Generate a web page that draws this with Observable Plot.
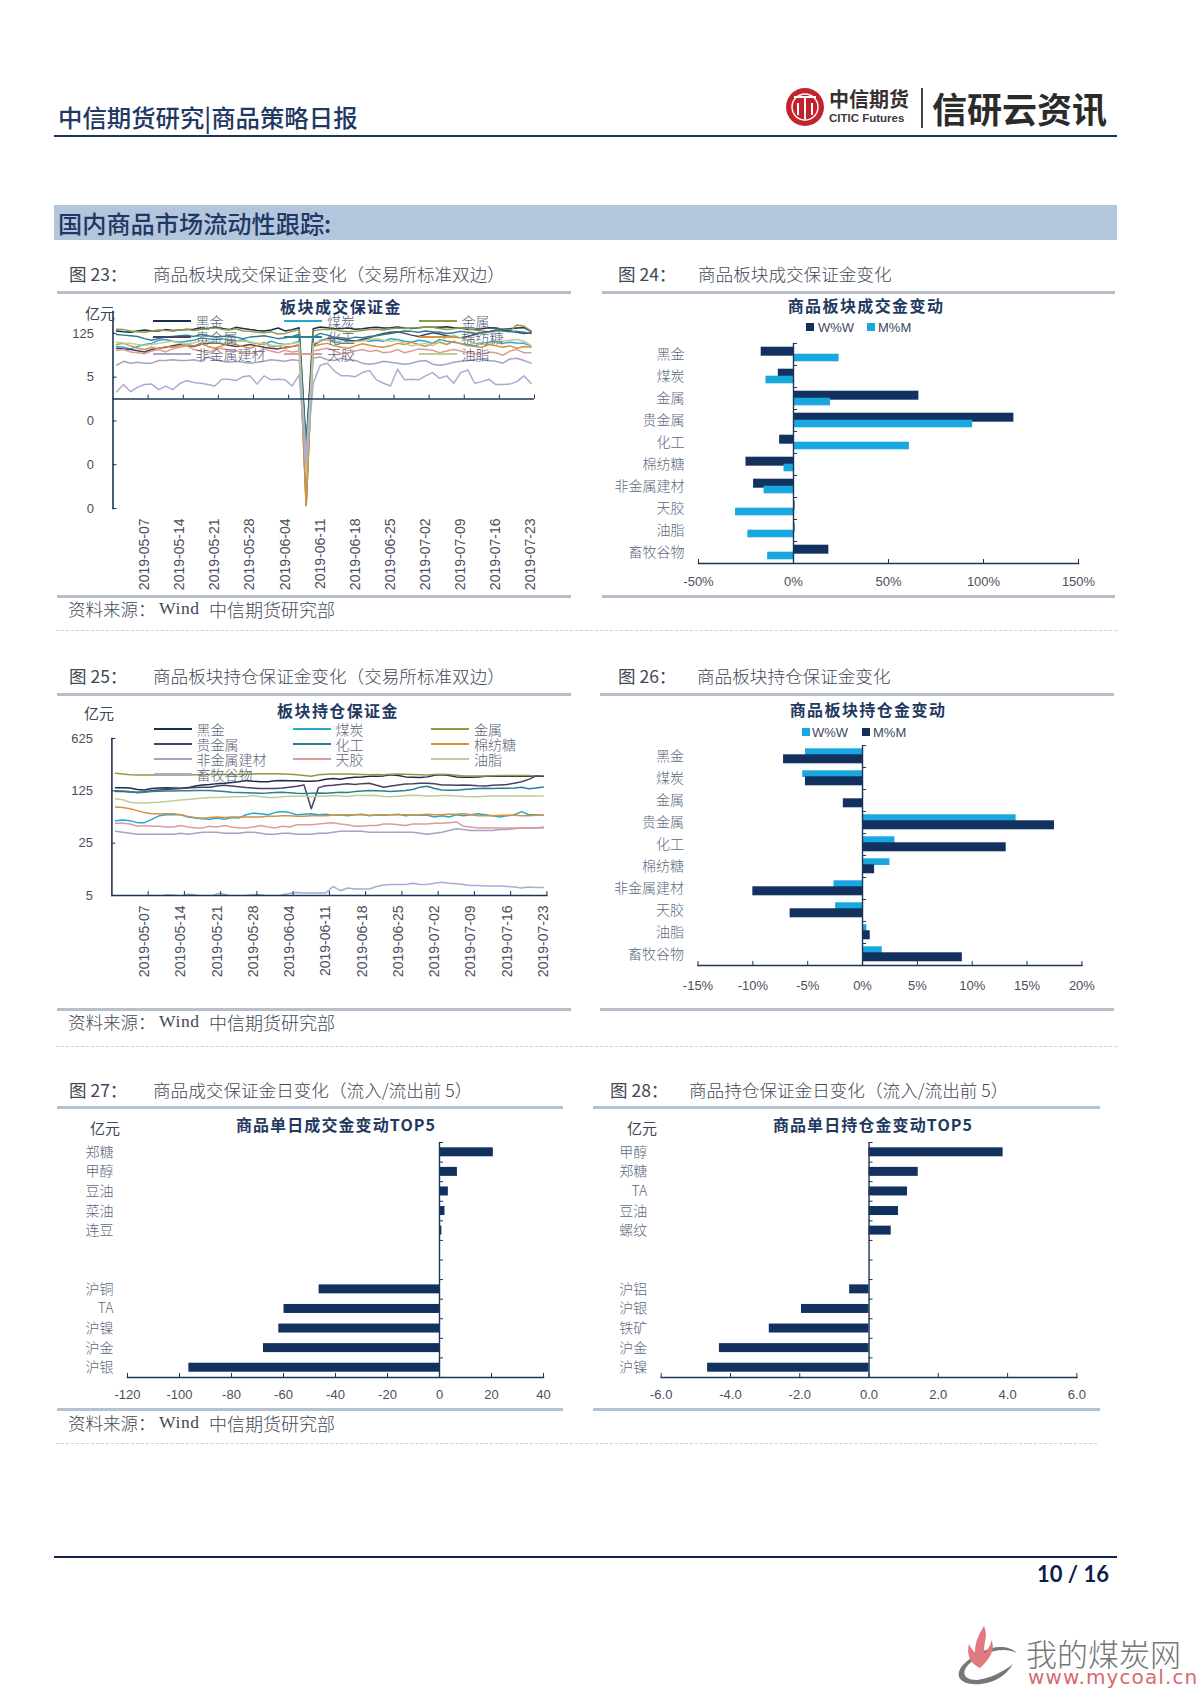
<!DOCTYPE html>
<html lang="zh">
<head>
<meta charset="utf-8">
<script src="https://cdn.jsdelivr.net/npm/d3@7"></script>
<script src="https://cdn.jsdelivr.net/npm/@observablehq/plot@0.6"></script>
<style>
html,body{margin:0;padding:0;background:#fff}
#page{position:relative;width:1200px;height:1696px;overflow:hidden;background:#fff;font-family:"Noto Sans CJK SC","Noto Sans",sans-serif}
.t{position:absolute;white-space:nowrap;transform:translateY(-50%);line-height:1}
.r{position:absolute}
</style>
</head>
<body>
<div id="page"></div>
<script>
// ---------- shared categories ----------
const sessions = ["2019-04-26","2019-04-29","2019-04-30","2019-05-06","2019-05-07","2019-05-08","2019-05-09","2019-05-10","2019-05-13","2019-05-14","2019-05-15","2019-05-16","2019-05-17","2019-05-20","2019-05-21","2019-05-22","2019-05-23","2019-05-24","2019-05-27","2019-05-28","2019-05-29","2019-05-30","2019-05-31","2019-06-03","2019-06-04","2019-06-05","2019-06-06","2019-06-07","2019-06-10","2019-06-11","2019-06-12","2019-06-13","2019-06-14","2019-06-17","2019-06-18","2019-06-19","2019-06-20","2019-06-21","2019-06-24","2019-06-25","2019-06-26","2019-06-27","2019-06-28","2019-07-01","2019-07-02","2019-07-03","2019-07-04","2019-07-05","2019-07-08","2019-07-09","2019-07-10","2019-07-11","2019-07-12","2019-07-15","2019-07-16","2019-07-17","2019-07-18","2019-07-19","2019-07-22","2019-07-23"];
const weekTicks = ["2019-05-07","2019-05-14","2019-05-21","2019-05-28","2019-06-04","2019-06-11","2019-06-18","2019-06-25","2019-07-02","2019-07-09","2019-07-16","2019-07-23"];
const sectors = ["黑金","煤炭","金属","贵金属","化工","棉纺糖","非金属建材","天胶","油脂","畜牧谷物"];
const sectorColors = ["#1b2c4c","#25a9cf","#8f9a45","#4b3f66","#2d7f90","#d8913f","#a9a2c4","#dc9c9c","#c0cc94","#a9accf"];

// ---------- Fig 23: trading margin by sector ----------
const trade_heijin = [150,140,135,150,160,150,150,165,155,160,165,170,190,175,200,180,165,195,180,165,155,150,160,185,150,165,190,0.03,175,200,190,175,180,185,170,175,190,195,185,190,200,185,180,190,200,195,195,205,190,185,165,170,175,190,185,170,175,185,190,145];
const trade_meitan = [48,45,40,48,55,60,75,80,70,65,70,75,90,85,80,85,75,70,80,65,60,55,70,60,55,60,70,0.0004,50,75,80,65,60,75,70,80,70,75,70,85,80,70,65,75,70,60,80,70,65,60,55,50,60,65,70,60,65,62,60,50];
const trade_jinshu = [170,165,150,140,135,150,160,155,150,160,170,155,165,175,190,170,160,175,150,145,135,130,140,120,125,145,165,0.0004,150,165,170,165,150,140,145,155,165,170,160,175,185,180,185,190,200,195,180,165,175,190,175,160,150,140,165,175,150,230,210,150];
const trade_guijinshu = [42,40,38,35,32,38,42,45,50,55,50,48,55,60,65,58,52,48,50,55,50,45,42,40,45,48,52,0.03,55,70,85,90,80,75,70,80,90,110,125,135,140,125,110,100,115,130,120,105,95,90,100,115,130,140,155,160,150,135,125,130];
const trade_huagong = [115,110,105,100,85,75,85,95,100,105,110,100,115,105,95,100,105,95,85,95,100,105,95,85,90,100,115,0.03,95,125,110,95,90,85,95,90,100,105,115,125,135,150,145,135,150,140,135,125,130,145,135,125,130,140,155,150,140,145,135,125];
const trade_mianfangtang = [55,60,50,42,38,45,40,48,45,50,55,50,58,48,42,50,60,55,48,42,50,65,45,50,42,48,55,0.0004,48,55,60,50,45,42,50,58,52,48,45,50,60,55,65,55,48,60,65,55,70,58,50,48,45,55,50,45,50,42,48,45];
const trade_feijinshu = [12,16,14,15,14,14,17,17,18,17,17,18,16,22,18,16,15,16,15,14,15,16,18,17,16,18,17,0.02,20,22,18,17,20,18,17,14,13,14,16,15,14,13,14,16,17,13,12,13,15,16,17,18,19,17,16,14,19,20,17,14];
const trade_tianjiao = [36,38,32,30,28,34,38,32,40,45,50,38,34,30,38,42,36,34,30,28,32,40,34,30,36,32,34,0.005,34,38,42,35,28,30,34,38,33,36,30,32,38,30,34,40,38,36,30,34,38,34,30,28,27,32,30,25,34,38,30,30];
const trade_youzhi = [65,62,60,55,52,55,60,65,70,60,58,62,75,70,65,60,65,70,72,68,60,58,52,50,55,60,65,0.005,60,70,80,75,65,62,68,72,80,85,75,70,75,60,50,55,60,50,70,95,110,90,75,62,55,60,65,70,75,80,70,52];
const trade_xumu = [1.7,2.9,1.7,2.4,2.9,3,2,2.6,2,3.1,3.9,3.4,3.2,2.9,2.6,4.3,4.3,3.9,5.2,5.5,3,5.5,4.1,4.3,4.1,2.6,5.9,0.008,3.2,12,14,8,5.5,5.5,5.2,7,8.2,4.1,3.2,2.6,9,4.1,4.3,4.1,5.5,7,4.6,5.5,3.2,7,8.5,3.2,3.6,4.3,2.9,2.9,3,3.6,5.5,3.2];
const trade_yTicks = [125,5,0.2,0.008,0.00032];

// ---------- Fig 25: open-interest margin by sector ----------
const hold_heijin = [137,137,136,130,128,134,136,137,136,135,138,145,150,152,156,158,162,165,172,168,165,165,170,172,170,170,168,168,170,178,182,178,185,190,192,195,195,198,205,200,192,190,188,192,202,205,200,192,190,190,192,195,195,198,196,198,195,197,196,195];
const hold_meitan = [50,51,50,47,47,52,58,60,60,60,56,54,53,52,54,52,55,54,60,63,62,60,64,66,64,60,61,62,60,61,59,60,58,60,61,58,60,59,60,61,58,60,59,59,56,58,56,60,58,60,62,60,58,56,58,60,66,60,60,59];
const hold_jinshu = [215,210,205,204,203,204,204,205,204,203,204,205,205,206,207,208,207,206,208,210,212,212,211,210,208,205,200,196,205,208,210,210,209,208,206,205,206,205,208,210,208,207,205,204,206,208,206,202,198,197,198,198,199,200,200,201,200,200,198,197];
const hold_guijinshu = [122,122,121,120,122,125,128,130,132,134,136,138,140,140,145,148,145,142,138,136,134,134,134,136,140,144,150,72,138,146,148,152,155,152,156,158,148,140,145,150,154,155,158,158,155,150,150,148,150,148,146,145,148,150,152,158,165,178,198,195];
const hold_huagong = [125,124,122,118,120,122,123,124,124,125,125,126,126,126,124,122,120,119,118,117,116,117,119,120,118,116,115,116,117,116,118,120,119,122,124,126,125,124,122,124,126,130,140,144,134,128,127,127,130,132,134,135,134,135,135,136,140,133,136,141];
const hold_mianfangtang = [76,75,72,68,64,62,62,62,62,60,57,55,54,55,56,55,56,56,56,56,56,57,57,58,58,57,57,58,58,58,59,59,60,60,60,59,59,60,60,60,60,59,60,61,60,60,61,61,62,60,58,58,58,59,59,59,58,58,59,59];
const hold_feijinshu = [36,35,34,33,33,33,33,33,33,34,33,34,35,35,35,34,34,34,35,35,34,33,33,34,34,33,33,33,34,34,35,36,36,36,36,35,35,35,35,35,35,35,34,33,34,35,37,39,38,37,37,37,37,38,38,39,40,40,40,40];
const hold_tianjiao = [46,46,45,42,43,42,42,41,41,43,41,40,40,42,41,43,41,40,40,41,43,41,40,42,41,44,44,44,45,46,47,45,44,42,42,43,43,45,45,44,43,45,45,45,46,46,47,48,42,41,40,40,40,40,40,40,40,40,40,41];
const hold_youzhi = [98,95,88,86,86,87,88,90,92,94,96,98,100,102,102,103,104,104,105,108,104,102,102,104,106,106,106,105,106,106,108,107,105,108,108,109,108,105,104,106,108,109,108,107,107,108,108,107,105,104,104,106,107,107,107,107,107,107,107,107];
const hold_xumu = [4.6,4.7,4.8,4.8,4.8,4.7,4.8,5.1,5.05,4.9,5.2,5.1,4.8,4.7,5.3,5.2,4.9,4.8,5,5.1,5.1,4.9,4.8,5.1,5.3,5.5,5.4,5.4,5.4,5.4,6.6,5.8,6.3,6.1,6.1,6.1,6.6,6.9,7,7,7,7.3,7,7,7.3,7.5,7.3,7.2,7,6.8,6.8,6.7,6.7,6.7,6.6,6.5,6.3,6.5,6.4,6.4];
const hold_yTicks = [625,125,25,5];

// ---------- Fig 24 / Fig 26: sector changes (%) ----------
const fig24_wow = [-17,-8,66,116,-7.3,-25,-21,0.8,0.8,18.6];
const fig24_mom = [24,-14.5,19.5,94.3,61,-5,-15.5,-30.5,-24,-13.6];
const fig24_ticks = [-50,0,50,100,150];
const fig26_wow = [-5.2,-5.45,0.1,14,2.95,2.5,-2.6,-2.45,0.4,1.8];
const fig26_mom = [-7.2,-5.2,-1.75,17.5,13.1,1.1,-10,-6.6,0.7,9.1];
const fig26_ticks = [-15,-10,-5,0,5,10,15,20];

// ---------- Fig 27 / Fig 28: daily top 5 ----------
const fig27_names = ["郑糖","甲醇","豆油","菜油","连豆"," ","  ","沪铜","TA","沪镍","沪金","沪银"];
const fig27_values = [20.7,6.9,3.4,2.1,0.9,null,null,-46.3,-59.8,-61.8,-67.7,-96.4];
const fig27_ticks = [-120,-100,-80,-60,-40,-20,0,20,40];
const fig28_names = ["甲醇","郑糖","TA","豆油","螺纹"," ","  ","沪铝","沪银","铁矿","沪金","沪镍"];
const fig28_values = [3.87,1.42,1.11,0.85,0.64,null,null,-0.56,-1.95,-2.88,-4.32,-4.66];
const fig28_ticks = [-6,-4,-2,0,2,4,6];

// ---------- helpers ----------
const page = document.getElementById("page");
const AXIS = "#1d3557", TICK = "#4a4f5c", CJK = '"Noto Sans CJK SC"', LATIN = '"Liberation Sans"';
function text(s, x, y, o = {}) {
  const e = document.createElement("div");
  e.className = "t"; e.textContent = s;
  e.style.left = x + "px"; e.style.top = y + "px";
  e.style.fontSize = (o.size || 17) + "px";
  e.style.color = o.color || "#3f4856";
  if (o.weight) e.style.fontWeight = o.weight;
  if (o.family) e.style.fontFamily = o.family;
  if (o.spacing) e.style.letterSpacing = o.spacing + "px";
  if (o.center) e.style.transform = "translate(-50%,-50%)";
  page.appendChild(e); return e;
}
function rect(x, y, w, h, c, extra) {
  const e = document.createElement("div");
  e.className = "r";
  e.style.cssText = `left:${x}px;top:${y}px;width:${w}px;height:${h}px;background:${c};` + (extra || "");
  page.appendChild(e); return e;
}
function rule(x1, x2, y, c = "#b7bfcb") { rect(x1, y - 1.5, x2 - x1, 3, c); }
function dotted(x1, x2, y) { rect(x1, y, x2 - x1, 0, "transparent", "border-top:1px dashed #cfcfcf;"); }
function heading(num, title, x1, x2, y) { text("图 " + num + "\uFF1A", x1, y, {size: 17.5}); text(title, x2, y, {size: 17.6, weight: 300}); }
function source(y) {
  text("资料来源\uFF1A", 68, y, {size: 17.5, weight: 300});
  text("Wind", 159, y, {size: 17.5, family: '"Liberation Serif"', spacing: .6});
  text("中信期货研究部", 209, y, {size: 18, weight: 300});
}
function place(opts, left, top) {
  const svg = Plot.plot({...opts, style: {fontFamily: `${LATIN},${CJK}`, fontSize: "13px", color: TICK, background: "transparent", overflow: "visible"}});
  svg.style.position = "absolute"; svg.style.left = left + "px"; svg.style.top = top + "px";
  page.appendChild(svg);
}
function longTable(arrays) {
  return arrays.flatMap((vals, k) => vals.map((v, i) => ({date: sessions[i], v, sector: sectors[k]})));
}
function legend(rows, cols, swatchW) {
  sectors.forEach((name, i) => {
    const r = Math.floor(i / 3), c = i % 3;
    if (r >= rows.length) return;
    rect(cols[c], rows[r] - 1, swatchW, 2, sectorColors[i]);
    text(name, cols[c] + swatchW + 5, rows[r], {size: 14, color: "#5b6378", weight: 300});
  });
}
function yAxisMarks(ticks, fmt, frameW) {
  return [
    Plot.tickY(ticks, {y: d => d, insetRight: frameW - 4, stroke: AXIS, strokeWidth: 1}),
    Plot.text(ticks, {y: d => d, text: fmt, frameAnchor: "left", dx: -19, textAnchor: "end", fontSize: 13, fill: TICK})
  ];
}

function bars({cats, series, ticks, fmt, left, right, top, bottom, svgLeft, svgTop, tickLen = 4, pad = 13}) {
  const svgRight = right + 24, svgBottom = bottom + 32;
  const dom = [ticks[0], ticks[ticks.length - 1]];
  const perPx = (dom[1] - dom[0]) / (right - left);
  const band = (bottom - top) / cats.length;
  const marks = [];
  for (const s of series) {
    marks.push(Plot.barX(cats.map((c, i) => ({cat: c, v: s.values[i]})).filter(d => d.v != null),
      {x: "v", y: "cat", fill: s.color, insetTop: s.inset[0], insetBottom: s.inset[1]}));
  }
  marks.push(
    Plot.ruleX([0], {stroke: AXIS, strokeWidth: 1.4}),
    Plot.ruleY(cats, {y: d => d, x1: 0, x2: tickLen * perPx, dy: -band / 2, stroke: AXIS, strokeWidth: 1}),
    Plot.frame({anchor: "bottom", stroke: AXIS, strokeWidth: 1.6}),
    Plot.tickX(ticks, {x: d => d, insetTop: bottom - top - 4, stroke: AXIS, strokeWidth: 1}),
    Plot.axisX({ticks, tickSize: 0, tickPadding: pad, tickFormat: fmt, fontSize: 13, fill: TICK, label: null}),
    Plot.axisY({tickSize: 0, tickPadding: 14, fontSize: 14, fontFamily: CJK, fontWeight: 300, fill: "#5b6a80", label: null})
  );
  place({
    width: svgRight - svgLeft, height: svgBottom - svgTop,
    marginLeft: left - svgLeft, marginRight: svgRight - right, marginTop: top - svgTop, marginBottom: svgBottom - bottom,
    x: {domain: dom},
    y: {type: "band", domain: cats, padding: 0, round: false},
    marks
  }, svgLeft, svgTop);
}
const pct = d => d + "%";

// ---------- page chrome ----------
text("中信期货研究|商品策略日报", 58, 117, {size: 24.4, color: "#1f3864", weight: 500});
rect(54, 135, 1063, 2.4, "#1c3553");
rect(54, 205, 1063, 35, "#b4c6dc");
text("国内商品市场流动性跟踪:", 58, 223, {size: 24.2, color: "#1f3864", weight: 500});

// logo
const logo = document.createElementNS("http://www.w3.org/2000/svg", "svg");
logo.setAttribute("width", 46); logo.setAttribute("height", 46);
logo.style.cssText = "position:absolute;left:785px;top:85px";
logo.innerHTML = '<circle cx="20" cy="22" r="19" fill="#c3232c"/><circle cx="20" cy="22" r="13" fill="none" stroke="#fff" stroke-width="1.4"/><path d="M9 12h22M20 12v22M13 18v12M27 18v12" stroke="#fff" stroke-width="2" fill="none"/>';
page.appendChild(logo);
text("中信期货", 829, 99, {size: 20, color: "#3a2f2f", weight: 700, family: '"Noto Sans CJK SC"'});
text("CITIC Futures", 829, 119, {size: 11.5, color: "#3a3a3a", weight: 700, family: LATIN});
rect(921, 88, 1.6, 40, "#444");
text("信研云资讯", 932, 107, {size: 35, color: "#2b2b2b", weight: 700, family: '"Noto Sans CJK SC"'});

// ---------- Fig 23 ----------
heading("23", "商品板块成交保证金变化\uFF08交易所标准双边\uFF09", 69, 153, 274);
rule(57, 571, 292);
{
  const left = 112.5, right = 534, top = 311, bottom = 508, sl = 60, st = 300, sr = 570, sb = 595;
  const band = (right - left) / sessions.length;
  place({
    width: sr - sl, height: sb - st,
    marginLeft: left - sl, marginRight: sr - right, marginTop: top - st, marginBottom: sb - bottom,
    x: {type: "band", domain: sessions, padding: 0, round: false},
    y: {type: "log", domain: [0.00032, 625], axis: null},
    color: {domain: sectors, range: sectorColors},
    marks: [
      Plot.line(longTable([trade_heijin, trade_meitan, trade_jinshu, trade_guijinshu, trade_huagong, trade_mianfangtang, trade_feijinshu, trade_tianjiao, trade_youzhi, trade_xumu]),
        {x: "date", y: "v", z: "sector", stroke: "sector", strokeWidth: 1.5, curve: "linear"}),
      Plot.ruleY([1], {stroke: AXIS, strokeWidth: 1.6}),
      Plot.ruleX(weekTicks, {x: d => d, y1: 1, y2: 1.34, dx: band / 2, stroke: AXIS, strokeWidth: 1}),
      Plot.frame({anchor: "left", stroke: AXIS, strokeWidth: 1.6}),
      ...yAxisMarks(trade_yTicks, d => d < 1 ? "0" : String(d), right - left),
      Plot.axisX({ticks: weekTicks, tickSize: 0, tickPadding: 10, tickRotate: -90, fontSize: 14, label: null})
    ]
  }, sl, st);
}
text("板块成交保证金", 341, 306, {size: 16, weight: 700, color: "#1f3a5f", spacing: 1.4, center: true});
text("亿元", 100, 312, {size: 15, center: true});
legend([320.5, 337, 353.5], [152.5, 284, 418.6], 38);
rule(57, 571, 596);
source(609);
dotted(56, 1117, 630);

// ---------- Fig 24 ----------
heading("24", "商品板块成交保证金变化", 618, 698, 274);
rule(602, 1115, 292);
bars({cats: sectors, series: [
  {values: fig24_wow, color: "#12315f", inset: [3.7, 9.3]},
  {values: fig24_mom, color: "#19a7e0", inset: [10.7, 3.7]}
], ticks: fig24_ticks, fmt: pct, left: 698, right: 1078, top: 343, bottom: 563, svgLeft: 602, svgTop: 335});
text("商品板块成交金变动", 866, 305, {size: 16, weight: 700, color: "#1f3a5f", spacing: 1.4, center: true});
rect(806, 323, 8, 8, "#12315f"); text("W%W", 818, 327, {size: 13, family: LATIN, color: "#3b4a5e"});
rect(867, 323, 8, 8, "#19a7e0"); text("M%M", 878, 327, {size: 13, family: LATIN, color: "#3b4a5e"});
rule(602, 1115, 596);

// ---------- Fig 25 ----------
heading("25", "商品板块持仓保证金变化\uFF08交易所标准双边\uFF09", 69, 153, 676);
rule(57, 571, 694);
{
  const left = 111.4, right = 546.4, top = 738, bottom = 895, sl = 60, st = 725, sr = 570, sb = 990;
  const band = (right - left) / sessions.length;
  place({
    width: sr - sl, height: sb - st,
    marginLeft: left - sl, marginRight: sr - right, marginTop: top - st, marginBottom: sb - bottom,
    x: {type: "band", domain: sessions, padding: 0, round: false},
    y: {type: "log", domain: [5, 625], axis: null},
    color: {domain: sectors, range: sectorColors},
    marks: [
      Plot.line(longTable([hold_heijin, hold_meitan, hold_jinshu, hold_guijinshu, hold_huagong, hold_mianfangtang, hold_feijinshu, hold_tianjiao, hold_youzhi, hold_xumu]),
        {x: "date", y: "v", z: "sector", stroke: "sector", strokeWidth: 1.5, curve: "linear", clip: true}),
      Plot.tickX(weekTicks, {x: d => d, dx: band / 2, insetTop: bottom - top - 4, stroke: AXIS, strokeWidth: 1}),
      Plot.frame({anchor: "left", stroke: AXIS, strokeWidth: 1.6}),
      Plot.frame({anchor: "bottom", stroke: AXIS, strokeWidth: 1.6}),
      ...yAxisMarks(hold_yTicks, d => String(d), right - left),
      Plot.axisX({ticks: weekTicks, tickSize: 0, tickPadding: 10, tickRotate: -90, fontSize: 14, label: null})
    ]
  }, sl, st);
}
text("板块持仓保证金", 338, 710, {size: 16, weight: 700, color: "#1f3a5f", spacing: 1.4, center: true});
text("亿元", 99, 712, {size: 15, center: true});
legend([729, 744, 759, 774], [153.6, 292.5, 431], 38);
rule(57, 571, 1009);
source(1022);
dotted(56, 1117, 1046);

// ---------- Fig 26 ----------
heading("26", "商品板块持仓保证金变化", 618, 697, 676);
rule(600, 1114, 694);
bars({cats: sectors, series: [
  {values: fig26_wow, color: "#19a7e0", inset: [3.3, 12]},
  {values: fig26_mom, color: "#12315f", inset: [9.3, 3.7]}
], ticks: fig26_ticks, fmt: pct, left: 697.5, right: 1081.4, top: 745, bottom: 965, svgLeft: 600, svgTop: 737, pad: 15});
text("商品板块持仓金变动", 868, 709, {size: 16, weight: 700, color: "#1f3a5f", spacing: 1.4, center: true});
rect(802, 728, 8, 8, "#19a7e0"); text("W%W", 812, 732, {size: 13, family: LATIN, color: "#3b4a5e"});
rect(862, 728, 8, 8, "#12315f"); text("M%M", 873, 732, {size: 13, family: LATIN, color: "#3b4a5e"});
rule(600, 1114, 1009);

// ---------- Fig 27 ----------
heading("27", "商品成交保证金日变化\uFF08流入/流出前 5\uFF09", 69, 153, 1090);
rule(57, 563, 1107, "#b3c3d2");
bars({cats: fig27_names, series: [{values: fig27_values, color: "#12315f", inset: [5.3, 5.3]}],
  ticks: fig27_ticks, fmt: d => String(d), left: 127, right: 543, top: 1142, bottom: 1377, svgLeft: 60, svgTop: 1134, pad: 12});
text("商品单日成交金变动TOP5", 336, 1124, {size: 16, weight: 700, color: "#1f3a5f", spacing: 1.1, center: true});
text("亿元", 105, 1127, {size: 15, center: true});
rule(57, 563, 1409, "#b3c3d2");
source(1423);
dotted(56, 1097, 1443);

// ---------- Fig 28 ----------
heading("28", "商品持仓保证金日变化\uFF08流入/流出前 5\uFF09", 610, 689, 1090);
rule(593, 1100, 1107, "#b3c3d2");
bars({cats: fig28_names, series: [{values: fig28_values, color: "#12315f", inset: [5.3, 5.3]}],
  ticks: fig28_ticks, fmt: d => d.toFixed(1), left: 660.7, right: 1076.4, top: 1142, bottom: 1377, svgLeft: 595, svgTop: 1134, pad: 12});
text("商品单日持仓金变动TOP5", 873, 1124, {size: 16, weight: 700, color: "#1f3a5f", spacing: 1.1, center: true});
text("亿元", 642, 1127, {size: 15, center: true});
rule(593, 1100, 1409, "#b3c3d2");

// ---------- footer ----------
rect(54, 1556, 1063, 2, "#14244a");
text("10 / 16", 1037, 1574, {size: 22, weight: 700, family: "Lato", color: "#0c1f4a"});
const flame = document.createElementNS("http://www.w3.org/2000/svg", "svg");
flame.setAttribute("width", 70); flame.setAttribute("height", 66);
flame.style.cssText = "position:absolute;left:955px;top:1622px";
flame.innerHTML = '<path d="M62 31C48 18 22 28 7 44C-2 56 8 64 26 62C42 60 52 52 58 42C48 50 36 56 22 58C8 58 6 50 14 42C28 30 48 24 62 31Z" fill="#777"/><path d="M29 4C34 16 27 22 30 32C33 26 36 24 36 18C42 28 32 40 25 46C16 42 11 34 14 22C17 28 19 30 20 30C20 20 24 12 29 4Z" fill="#e07a7e"/>';
page.appendChild(flame);
text("我的煤炭网", 1026, 1652, {size: 31, color: "#767676", weight: 300});
text("www.mycoal.cn", 1028, 1677, {size: 20, color: "#d8696f", spacing: 1.1, family: '"DejaVu Sans"'});
</script>
</body>
</html>
